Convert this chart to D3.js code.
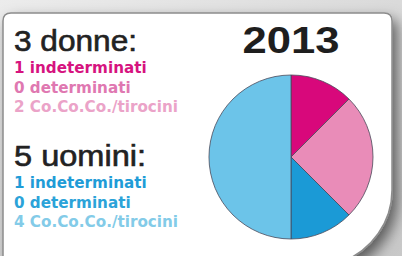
<!DOCTYPE html>
<html>
<head>
<meta charset="utf-8">
<script src="https://cdn.jsdelivr.net/npm/d3@7"></script>
<style>
  html, body { margin: 0; padding: 0; background: #e4e4e4; }
  svg { display: block; }
</style>
</head>
<body>
<div id="chart"></div>
<script>

var year = "2013";

var categories = ["indeterminati", "determinati", "Co.Co.Co./tirocini"];
var donne = [1, 0, 2],
	uomini = [1, 0, 4];

var groupLabels = ["donne", "uomini"];

var pinkColors = ["#d6137f", "#df78b1", "#eba3c8"],
	blueColors = ["#1f9cd7", "#2ba3d9", "#83cbe8"];

var sliceColors = ["#d8087b", "#d8087b", "#e98cb8", "#1b9ad6", "#1b9ad6", "#6cc4e9"];

var width = 402,
	height = 256;

var svg = d3.select("#chart")
	.append("svg")
	.attr("width", width)
	.attr("height", height);

var defs = svg.append("defs");

// background gradient
var bg = defs.append("linearGradient")
	.attr("id", "bg")
	.attr("x1", 0).attr("y1", 0)
	.attr("x2", 1).attr("y2", 1);
bg.append("stop").attr("offset", "0%").attr("stop-color", "#ececec");
bg.append("stop").attr("offset", "100%").attr("stop-color", "#c8c8c8");

var shadow = defs.append("filter")
	.attr("id", "shadow")
	.attr("x", "-20%").attr("y", "-20%")
	.attr("width", "140%").attr("height", "140%");
shadow.append("feDropShadow")
	.attr("dx", 5).attr("dy", 7)
	.attr("stdDeviation", 7)
	.attr("flood-color", "#000")
	.attr("flood-opacity", 0.55);

svg.append("rect")
	.attr("width", width)
	.attr("height", height)
	.attr("fill", "url(#bg)");

// card with rounded top corners and a wide bottom-right curve
var card = d3.path();
card.moveTo(3, 262);
card.lineTo(3, 21);
card.quadraticCurveTo(3, 13, 11, 13);
card.lineTo(384, 13);
card.quadraticCurveTo(392, 13, 392, 21);
card.lineTo(392, 190);
card.bezierCurveTo(392, 222, 372, 250, 342, 262);
card.closePath();

svg.append("path")
	.attr("d", card.toString())
	.attr("fill", "#fff")
	.attr("stroke", "#8c8c8c")
	.attr("stroke-width", 1.5)
	.attr("filter", "url(#shadow)");

// legend text
var blocks = [
	{ total: d3.sum(donne), label: groupLabels[0], values: donne, colors: pinkColors, y: 51 },
	{ total: d3.sum(uomini), label: groupLabels[1], values: uomini, colors: blueColors, y: 166 }
];

blocks.forEach(function(b) {
	svg.append("text")
		.attr("x", 14)
		.attr("y", b.y)
		.attr("font-family", "Liberation Sans, Arial, sans-serif")
		.attr("font-size", 29)
		.attr("fill", "#222")
		.attr("stroke", "#222")
		.attr("stroke-width", 0.6)
		.attr("textLength", b.label == "donne" ? 123 : 132)
		.attr("lengthAdjust", "spacingAndGlyphs")
		.text(b.total + " " + b.label + ":");

	svg.selectAll(null)
		.data(b.values)
		.enter()
		.append("text")
		.attr("x", 14)
		.attr("y", function(d, i) { return b.y + 22 + i * 19.5; })
		.attr("font-family", "DejaVu Sans, Verdana, sans-serif")
		.attr("font-weight", "bold")
		.attr("font-size", 15.2)
		.attr("fill", function(d, i) { return b.colors[i]; })
		.text(function(d, i) { return d + " " + categories[i]; });
});

// year
svg.append("text")
	.attr("x", 291)
	.attr("y", 53)
	.attr("text-anchor", "middle")
	.attr("font-family", "Liberation Sans, Arial, sans-serif")
	.attr("font-weight", "bold")
	.attr("font-size", 36)
	.attr("fill", "#1e1e1e")
	.attr("textLength", 97)
	.attr("lengthAdjust", "spacingAndGlyphs")
	.text(year);

// pie
var pieData = donne.concat(uomini);

var pie = d3.pie()
	.sort(null)
	.value(function(d) { return d; });

var arc = d3.arc()
	.innerRadius(0)
	.outerRadius(82);

var g = svg.append("g")
	.attr("transform", "translate(291,157)");

g.selectAll("path")
	.data(pie(pieData))
	.enter()
	.append("path")
	.attr("d", arc)
	.attr("fill", function(d, i) { return sliceColors[i]; })
	.attr("stroke", "#4a4a5a")
	.attr("stroke-width", function(d) { return d.value > 0 ? 0.8 : 0; });

</script>
</body>
</html>
